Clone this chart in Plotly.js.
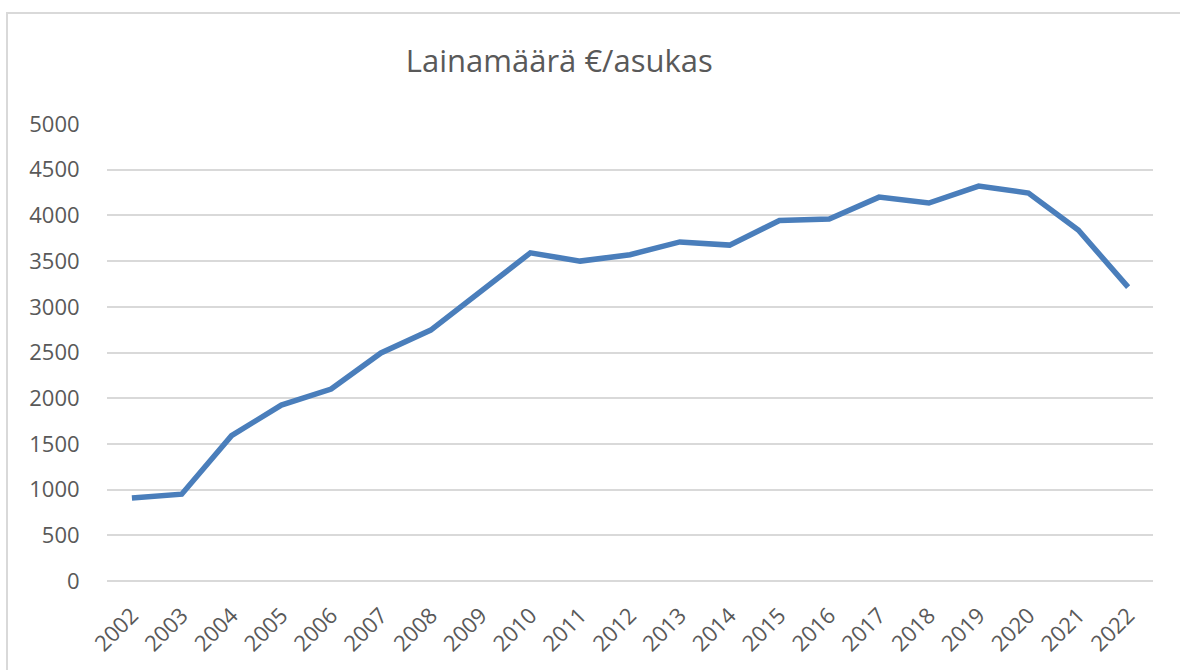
<!DOCTYPE html>
<html>
<head>
<meta charset="utf-8">
<script src="https://cdn.plot.ly/plotly-3.0.1.min.js"></script>
<style>
  html, body { margin: 0; padding: 0; background: #fff; overflow: hidden; }
  #chart { width: 1180px; height: 670px; position: absolute; left: 0; top: 0; }
  #frame { position: absolute; left: 6px; top: 12px; width: 1200px; height: 700px;
           border: 2px solid #d9d9d9; pointer-events: none; }
</style>
</head>
<body>
<div id="chart"></div>
<div id="frame"></div>
<script>
const years = ["2002","2003","2004","2005","2006","2007","2008","2009","2010","2011",
               "2012","2013","2014","2015","2016","2017","2018","2019","2020","2021","2022"];
const loanPerResident = [908, 950, 1590, 1925, 2100, 2495, 2745, 3165, 3590, 3500,
                         3570, 3710, 3675, 3945, 3960, 4200, 4135, 4320, 4245, 3840, 3215];
const yTicks = [0, 500, 1000, 1500, 2000, 2500, 3000, 3500, 4000, 4500, 5000];
const chartTitle = "Lainamäärä €/asukas";

const trace = {
  x: years,
  y: loanPerResident,
  type: "scatter",
  mode: "lines",
  line: { color: "#4a7ebb", width: 5.5 },
  hoverinfo: "x+y"
};

const layout = {
  width: 1180,
  height: 670,
  margin: { l: 107, r: 27, t: 124, b: 89 },
  paper_bgcolor: "#ffffff",
  plot_bgcolor: "#ffffff",
  showlegend: false,
  font: { family: "Open Sans, sans-serif", color: "#595959" },
  title: {
    text: chartTitle,
    font: { size: 31, color: "#595959", family: "Open Sans, sans-serif" },
    x: 0.474, xref: "container", xanchor: "center",
    y: 0.908, yref: "container", yanchor: "middle"
  },
  xaxis: {
    type: "category",
    tickangle: -45,
    tickfont: { size: 22, color: "#595959" },
    showgrid: false,
    showline: false,
    zeroline: false,
    ticks: "outside",
    ticklen: 12,
    tickcolor: "rgba(0,0,0,0)",
    range: [-0.5, years.length - 0.5],
    automargin: false
  },
  yaxis: {
    range: [0, 5000],
    tickvals: yTicks,
    ticktext: yTicks.map(String),
    tickfont: { size: 22, color: "#595959" },
    showgrid: true,
    gridcolor: "#d9d9d9",
    gridwidth: 2,
    zeroline: true,
    zerolinecolor: "#d9d9d9",
    zerolinewidth: 2,
    showline: false,
    ticks: "outside",
    ticklen: 22,
    tickcolor: "rgba(0,0,0,0)",
    automargin: false
  }
};

Plotly.newPlot("chart", [trace], layout, { staticPlot: true, displayModeBar: false });
</script>
</body>
</html>
